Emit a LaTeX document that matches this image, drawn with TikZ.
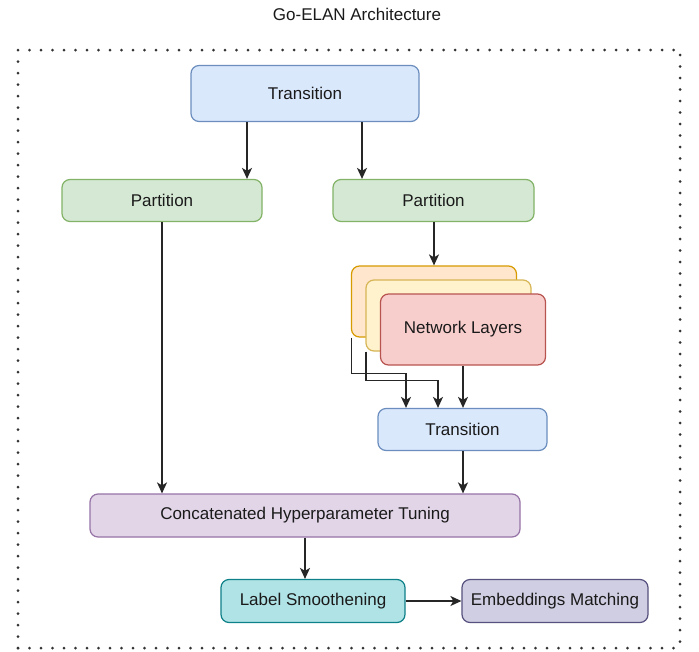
\documentclass[tikz,border=0pt]{standalone}
\usepackage{fontspec}
\setmainfont{Liberation Sans}
\usetikzlibrary{arrows.meta,calc}
\definecolor{bluef}{HTML}{DAE8FC}\definecolor{blued}{HTML}{6C8EBF}
\definecolor{greenf}{HTML}{D5E8D4}\definecolor{greend}{HTML}{82B366}
\definecolor{orangef}{HTML}{FFE6CC}\definecolor{oranged}{HTML}{D79B00}
\definecolor{yellowf}{HTML}{FFF2CC}\definecolor{yellowd}{HTML}{D6B656}
\definecolor{redf}{HTML}{F8CECC}\definecolor{redd}{HTML}{B85450}
\definecolor{purplef}{HTML}{E1D5E7}\definecolor{purpled}{HTML}{9673A6}
\definecolor{tealf}{HTML}{B0E3E6}\definecolor{teald}{HTML}{0E8088}
\definecolor{slatef}{HTML}{D0CEE2}\definecolor{slated}{HTML}{56517E}
\definecolor{txt}{HTML}{1A1A1A}
\begin{document}
\begin{tikzpicture}[x=1pt,y=-1pt,
  box/.style={draw, rounded corners=8pt, line width=1.2pt, inner sep=0pt, text=txt,
    font=\fontsize{17}{20}\selectfont},
  arr/.style={draw=black!85, line width=1.5pt, -{Stealth[length=11pt,width=10pt,inset=3pt]}},
  frame/.style={draw=black!80, line width=3pt, line cap=round, dash pattern=on 0pt off 11.5pt}]
\useasboundingbox (0,0) rectangle (699,651);
\fill[white] (0,0) rectangle (699,651);
\node[text=txt, font=\fontsize{17}{20}\selectfont] (title) at (357,14) {Go-ELAN Architecture};
\draw[frame] (18,648) -- (18,50) -- (680,50) -- (680,648);
\draw[frame] (18,648) -- (680,648);

\node[box, fill=bluef, draw=blued, minimum width=228pt, minimum height=56pt] (T1) at (305,93.5) {Transition};
\node[box, fill=greenf, draw=greend, minimum width=200pt, minimum height=42pt] (PL) at (162,200.5) {Partition};
\node[box, fill=greenf, draw=greend, minimum width=201pt, minimum height=42pt] (PR) at (433.5,200.5) {Partition};
\node[box, fill=orangef, draw=oranged, minimum width=165pt, minimum height=71pt] (O) at (434,301.5) {};
\node[box, fill=yellowf, draw=yellowd, minimum width=165pt, minimum height=71pt] (Y) at (448.5,315.5) {};
\node[box, fill=redf, draw=redd, minimum width=165pt, minimum height=71pt] (R) at (463,329.5) {Network Layers};
\node[box, fill=bluef, draw=blued, minimum width=169pt, minimum height=42pt] (T2) at (462.5,429.5) {Transition};
\node[box, fill=purplef, draw=purpled, minimum width=430pt, minimum height=43pt] (C) at (305,515.5) {Concatenated Hyperparameter Tuning};
\node[box, fill=tealf, draw=teald, minimum width=184pt, minimum height=43pt] (L) at (313,601) {Label Smoothening};
\node[box, fill=slatef, draw=slated, minimum width=186pt, minimum height=43pt] (E) at (555,601) {Embeddings Matching};

\draw[arr] ([xshift=-58pt]T1.south) -- ([xshift=-58pt]T1.south |- PL.north);
\draw[arr] ([xshift=57pt]T1.south) -- ([xshift=57pt]T1.south |- PR.north);
\draw[arr] ([xshift=0.5pt]PR.south) -- ([xshift=0.5pt]PR.south |- O.north);
\draw[arr] (PL.south) -- (PL.south |- C.north);
\draw[arr] ([xshift=0.5pt]O.south west) -- ++(0,36) -| ([xshift=-56.5pt]T2.north);
\draw[arr] ([xshift=0.5pt]Y.south west) -- ++(0,29) -| ([xshift=-24.5pt]T2.north);
\draw[arr] (R.south) -- (R.south |- T2.north);
\draw[arr] ([xshift=0.5pt]T2.south) -- ([xshift=0.5pt]T2.south |- C.north);
\draw[arr] (C.south) -- (C.south |- L.north);
\draw[arr] (L.east) -- (E.west);
\end{tikzpicture}
\end{document}
